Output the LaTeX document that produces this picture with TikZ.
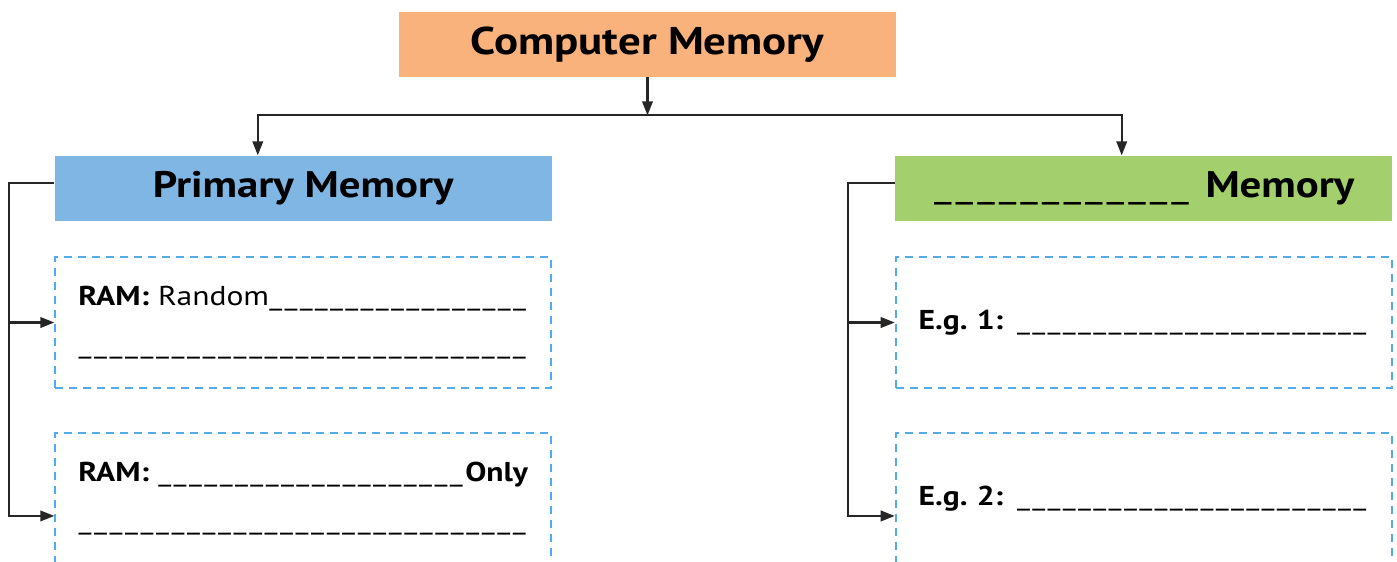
\documentclass[tikz,border=0pt]{standalone}
\usepackage{fontspec}
\setmainfont{PT Sans}[FakeStretch=1.16]
\usepackage{xcolor}
\usetikzlibrary{arrows.meta, positioning}

\definecolor{memorange}{HTML}{F9B27B}
\definecolor{memblue}{HTML}{7FB6E3}
\definecolor{memgreen}{HTML}{A3CF6C}
\definecolor{dashblue}{HTML}{55ABE8}

% blanks to be filled in
\newcommand{\dashunit}{\hbox{\mdseries\char"5F\kern0.08em}}
\newcommand{\blank}[1]{\leavevmode\xleaders\dashunit\hskip #1\null}
\newcommand{\blankfill}{\leavevmode\xleaders\dashunit\hskip 0pt plus 1fill\null}

\begin{document}
\begin{tikzpicture}[
    headbox/.style={rectangle, minimum width=9.95cm, minimum height=1.3cm, inner sep=0pt, font=\fontsize{21}{25}\selectfont\bfseries},
    fillbox/.style={rectangle, draw=dashblue, dash pattern=on 0.16cm off 0.12cm, line width=1.1pt, minimum height=2.62cm, text width=9cm, inner xsep=0.46cm, align=left, font=\fontsize{15.5}{27}\selectfont},
    arrow/.style={-{Triangle[length=2.8mm, width=2.1mm]}, line width=1.2pt, draw=black!85}
]
\useasboundingbox (0,0) rectangle (27.94,-11.24);

% Top - Computer Memory
\node [headbox, fill=memorange, font=\fontsize{22}{26}\selectfont\bfseries] (memory) at (12.95,-0.89) {Computer Memory};

% Second layer - two kinds
\node [headbox, fill=memblue, below left=1.56cm and -3.08cm of memory] (primary) {Primary Memory};
\node [headbox, fill=memgreen, below right=1.56cm and -0.04cm of memory] (secondary) {\blank{5.2cm}\kern0.25cm Memory};

% Blank boxes - primary
\node [fillbox, below=0.7cm of primary] (ram) {\textbf{RAM:} Random\blankfill\\ \blankfill};
\node [fillbox, below=0.86cm of ram] (rom) {\textbf{RAM: }\blankfill\textbf{Only}\\ \blankfill};

% Blank boxes - secondary
\node [fillbox, below=0.7cm of secondary] (egone) {\textbf{E.g.\ 1: }\blankfill};
\node [fillbox, below=0.86cm of egone] (egtwo) {\textbf{E.g.\ 2: }\blankfill};

% Arrows
\coordinate (split) at ([yshift=-0.76cm]memory.south);
\coordinate (pin) at ([xshift=-0.91cm]primary.north);
\coordinate (sin) at ([xshift=-0.44cm]secondary.north);
\draw [arrow] (memory.south) -- (split);
\draw [arrow] (split) -| (pin);
\draw [arrow] (split) -| (sin);

\coordinate (pout) at ([yshift=0.11cm]primary.west);
\draw [arrow] (pout) -- ++(-0.9,0) |- (ram.west);
\draw [arrow] (pout) -- ++(-0.9,0) |- ([yshift=-0.35cm]rom.west);

\coordinate (sout) at ([yshift=0.11cm]secondary.west);
\draw [arrow] (sout) -- ++(-0.94,0) |- (egone.west);
\draw [arrow] (sout) -- ++(-0.94,0) |- ([yshift=-0.35cm]egtwo.west);

\end{tikzpicture}
\end{document}
